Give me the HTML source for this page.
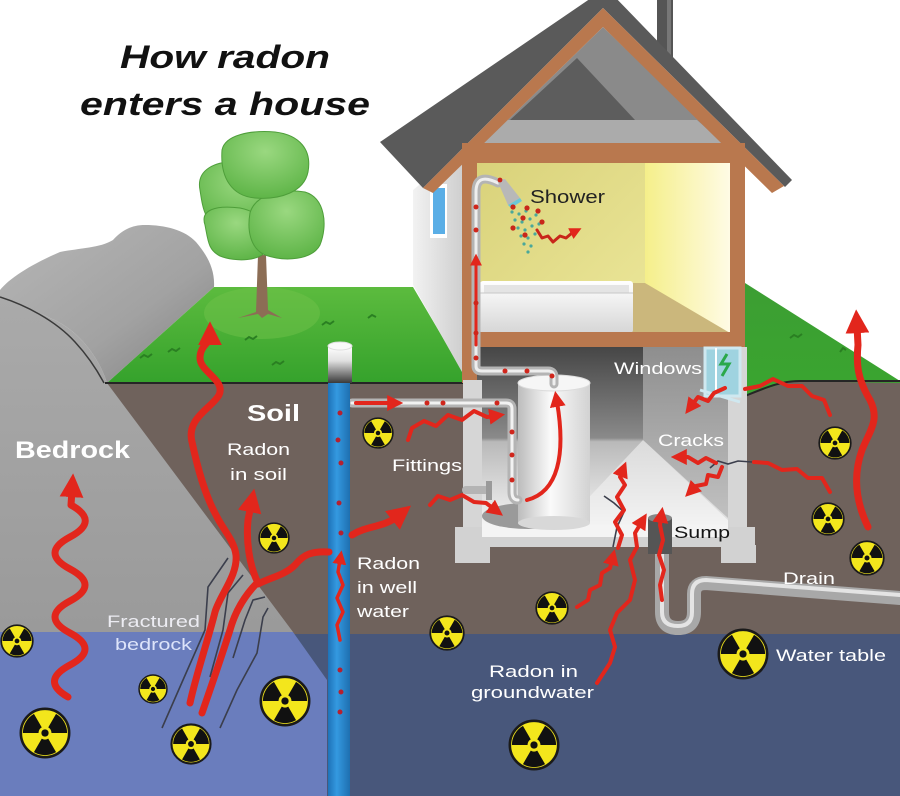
<!DOCTYPE html>
<html><head><meta charset="utf-8"><style>
html,body{margin:0;padding:0;background:#fff;}
svg{display:block;}
text{font-family:"Liberation Sans",Arial,sans-serif;}
</style></head><body>
<svg width="900" height="796" viewBox="0 0 900 796" xmlns="http://www.w3.org/2000/svg">
<defs>
 <symbol id="rad" viewBox="-1 -1 2 2">
  <circle r="0.93" fill="#f3e61c" stroke="#1a1a1a" stroke-width="0.1"/>
  <path fill="#111" d="M0.425,0.736 A0.85,0.85 0 0 1 -0.425,0.736 L-0.125,0.2165 A0.25,0.25 0 0 0 0.125,0.2165 Z M0.425,-0.736 A0.85,0.85 0 0 1 0.85,0 L0.25,0 A0.25,0.25 0 0 0 0.125,-0.2165 Z M-0.85,0 A0.85,0.85 0 0 1 -0.425,-0.736 L-0.125,-0.2165 A0.25,0.25 0 0 0 -0.25,0 Z"/>
  <circle r="0.14" fill="#111"/>
 </symbol>
 <marker id="ah" viewBox="0 0 10 10" refX="3" refY="5" markerWidth="3.4" markerHeight="3.4" orient="auto"><path d="M0,0 L10,5 L0,10 Z" fill="#e2261c"/></marker>
 <marker id="ahs" viewBox="0 0 10 10" refX="3" refY="5" markerWidth="4" markerHeight="4" orient="auto"><path d="M0,0 L10,5 L0,10 Z" fill="#e2261c"/></marker>
 <linearGradient id="rockTop" x1="0" y1="0" x2="1" y2="1"><stop offset="0" stop-color="#b6b6b6"/><stop offset="0.6" stop-color="#a2a2a2"/><stop offset="1" stop-color="#808080"/></linearGradient>
 <linearGradient id="rockFace" x1="0" y1="0" x2="0" y2="1"><stop offset="0" stop-color="#aaaaaa"/><stop offset="1" stop-color="#9a9a9a"/></linearGradient>
 <linearGradient id="grassL" x1="0" y1="0" x2="0" y2="1"><stop offset="0" stop-color="#5cbb3e"/><stop offset="1" stop-color="#35a22c"/></linearGradient>
 <linearGradient id="grassR" x1="0" y1="0" x2="0" y2="1"><stop offset="0" stop-color="#3c9e33"/><stop offset="1" stop-color="#3aa52f"/></linearGradient>
 <linearGradient id="sideWall" x1="0" y1="0" x2="1" y2="0"><stop offset="0" stop-color="#f2f2f2"/><stop offset="1" stop-color="#cfcfcf"/></linearGradient>
 <linearGradient id="roomBack" x1="0" y1="0" x2="1" y2="1"><stop offset="0" stop-color="#d9d27a"/><stop offset="1" stop-color="#ece79a"/></linearGradient>
 <linearGradient id="roomRight" x1="0" y1="0" x2="1" y2="0"><stop offset="0" stop-color="#f5ef8a"/><stop offset="1" stop-color="#fffbe6"/></linearGradient>
 <linearGradient id="base" x1="0" y1="0" x2="0" y2="1"><stop offset="0" stop-color="#464646"/><stop offset="0.5" stop-color="#8a8a8a"/><stop offset="0.52" stop-color="#b9b9b9"/><stop offset="1" stop-color="#f7f7f7"/></linearGradient>
 <linearGradient id="baseR" x1="0" y1="0" x2="0" y2="1"><stop offset="0" stop-color="#8e8e8e"/><stop offset="1" stop-color="#c2c2c2"/></linearGradient>
 <linearGradient id="heater" x1="0" y1="0" x2="1" y2="0"><stop offset="0" stop-color="#bcbcbc"/><stop offset="0.45" stop-color="#fafafa"/><stop offset="1" stop-color="#d2d2d2"/></linearGradient>
 <linearGradient id="cap" x1="0" y1="0" x2="0" y2="1"><stop offset="0" stop-color="#ffffff"/><stop offset="0.4" stop-color="#e0e0e0"/><stop offset="1" stop-color="#3a3a3a"/></linearGradient>
 <linearGradient id="tub" x1="0" y1="0" x2="0" y2="1"><stop offset="0" stop-color="#ffffff"/><stop offset="1" stop-color="#d6d6d6"/></linearGradient>
 <linearGradient id="well" x1="0" y1="0" x2="1" y2="0"><stop offset="0" stop-color="#1e72b8"/><stop offset="0.4" stop-color="#3499e0"/><stop offset="1" stop-color="#1e6fb0"/></linearGradient>
 <radialGradient id="canopy" cx="0.5" cy="0.3" r="0.7"><stop offset="0" stop-color="#9ad880"/><stop offset="1" stop-color="#5fb548"/></radialGradient>
</defs>

<rect width="900" height="796" fill="#fff"/>

<!-- soil -->
<rect x="0" y="382" width="900" height="256" fill="#6f625c"/>
<!-- water -->
<rect x="0" y="634" width="900" height="162" fill="#48577b"/>
<!-- light blue under bedrock -->
<polygon points="0,632 293,632 327,680 327,796 0,796" fill="#6a7dbd"/>
<!-- bedrock face -->
<path d="M0,292 C12,298 30,308 50,318 C80,330 100,360 107,383 L293,632 L0,632 Z" fill="url(#rockFace)"/>
<!-- rock top -->
<path d="M0,290 C10,278 30,265 60,252 C80,248 100,248 113,240 C122,230 132,225 145,225 C165,225 185,230 196,242 C208,256 215,270 214,287 L107,383 C100,360 80,330 50,318 C30,308 12,300 0,297 Z" fill="url(#rockTop)"/>
<path d="M0,297 C25,305 55,320 75,342 C88,356 97,370 104,383" fill="none" stroke="#3a3a3a" stroke-width="1.5"/>

<!-- grass left -->
<polygon points="107,383 214,287 413,287 463,372 463,383" fill="url(#grassL)"/>
<ellipse cx="262" cy="313" rx="58" ry="26" fill="#6fc249" opacity="0.5"/>
<!-- grass right -->
<polygon points="745,283 900,381 900,383 790,381 745,396" fill="url(#grassR)"/>
<line x1="105" y1="383" x2="463" y2="383" stroke="#252525" stroke-width="2"/>
<path d="M745,396 C765,388 780,381 800,381 L900,381" fill="none" stroke="#252525" stroke-width="2"/>
<!-- grass tufts -->
<g stroke="#2a7f22" stroke-width="2" fill="none">
<path d="M140,358 l4,-3 l4,2 l4,-3"/><path d="M168,352 l4,-3 l4,2 l4,-3"/><path d="M245,340 l4,-3 l4,2 l4,-3"/><path d="M272,365 l4,-3 l4,2 l4,-3"/><path d="M322,325 l4,-3 l4,2 l4,-3"/><path d="M368,318 l4,-3 l4,2"/><path d="M790,338 l4,-3 l4,2 l4,-3"/><path d="M840,352 l3,-4 l3,2"/>
</g>

<!-- tree -->
<path d="M258,255 L256,312 L238,318 L258,314 L262,318 L268,314 L282,318 L268,310 L266,255 Z" fill="#8c6d55"/>
<g fill="url(#canopy)" stroke="#4e9e3a" stroke-width="1">
<path d="M200,190 C196,170 215,160 240,162 C265,164 285,175 282,200 C279,225 250,232 225,228 C205,225 203,210 200,190 Z"/>
<path d="M205,225 C200,210 215,205 240,208 C262,212 272,230 268,248 C262,262 235,262 220,256 C208,250 208,240 205,225 Z"/>
<path d="M250,213 C255,195 280,188 305,192 C325,198 328,225 320,245 C312,260 285,262 265,255 C250,248 247,230 250,213 Z"/>
<path d="M222,150 C225,135 250,130 275,132 C300,135 312,150 308,172 C304,192 280,200 255,198 C232,196 220,178 222,150 Z"/>
</g>

<!-- chimney -->
<rect x="657" y="0" width="16" height="60" fill="#555"/>
<rect x="667" y="0" width="4" height="60" fill="#777"/>

<!-- house side wall -->
<polygon points="413,190 462,150 462,372 413,285" fill="url(#sideWall)"/>
<rect x="430" y="184" width="17" height="54" fill="#fff"/>
<rect x="433" y="188" width="12" height="46" fill="#5aaee6"/>

<!-- attic -->
<polygon points="484,143 603,27 723,143" fill="#8a8a8a"/>
<polygon points="507,120 697,120 723,143 484,143" fill="#ababab"/>
<polygon points="510,120 577,58 635,120" fill="#5d5d5d"/>

<!-- roof -->
<polygon points="380,142 597,-6 612,-6 792,180 785,187 603,8 423,188" fill="#5a5a5a"/>
<polygon points="423,188 603,8 784,186 772,193 603,27 433,193" fill="#b9784e"/>

<!-- room -->
<rect x="477" y="163" width="168" height="170" fill="url(#roomBack)"/>
<rect x="645" y="163" width="86" height="170" fill="url(#roomRight)"/>
<polygon points="477,283 645,283 730,333 477,333" fill="#cbb77c"/>
<!-- bathtub -->
<rect x="480" y="281" width="153" height="52" rx="3" fill="url(#tub)"/>
<rect x="484" y="285" width="145" height="8" fill="#e4e4e4"/>
<line x1="480" y1="293" x2="633" y2="293" stroke="#c8c8c8" stroke-width="1"/>

<!-- frame -->
<rect x="462" y="143" width="283" height="20" fill="#b9784e"/>
<rect x="462" y="143" width="15" height="240" fill="#b9784e"/>
<rect x="730" y="143" width="15" height="204" fill="#b9784e"/>
<rect x="462" y="332" width="283" height="15" fill="#b9784e"/>

<!-- basement -->
<rect x="477" y="347" width="253" height="182" fill="url(#base)"/>
<polygon points="643,347 730,347 730,522 643,440" fill="url(#baseR)"/>
<polygon points="643,440 728,518 728,528 560,528" fill="#f2f2f2" opacity="0.6"/>
<!-- foundation -->
<rect x="463" y="380" width="19" height="168" fill="#d6d6d6"/>
<rect x="728" y="347" width="19" height="201" fill="#d6d6d6"/>
<rect x="455" y="527" width="300" height="20" fill="#d2d2d2"/>
<rect x="482" y="525" width="246" height="12" fill="#f4f4f4"/>
<rect x="455" y="545" width="35" height="18" fill="#d2d2d2"/>
<rect x="721" y="545" width="35" height="18" fill="#d2d2d2"/>
<!-- window -->
<polygon points="705,348 740,348 740,396 705,396" fill="#9fd3e0" stroke="#cfe8f0" stroke-width="3"/>
<line x1="716" y1="348" x2="716" y2="396" stroke="#ffffff" stroke-width="2"/>
<path d="M727,354 l-6,10 l8,0 l-7,12" fill="none" stroke="#2aa84a" stroke-width="3"/>
<line x1="700" y1="390" x2="740" y2="402" stroke="#cfe8f0" stroke-width="3"/>

<!-- heater -->
<ellipse cx="528" cy="516" rx="46" ry="13" fill="#9a9a9a"/>
<rect x="518" y="383" width="72" height="140" fill="url(#heater)"/>
<ellipse cx="554" cy="523" rx="36" ry="7" fill="#d8d8d8"/>
<ellipse cx="554" cy="383" rx="36" ry="8" fill="#f6f6f6" stroke="#dcdcdc"/>

<!-- pipes -->
<g fill="none" stroke-linecap="round" stroke-linejoin="round">
<path d="M498,183 Q476,172 476,192 V366 Q476,371 482,371 H548 Q554,371 554,377 V384" stroke="#b4b4b4" stroke-width="9"/>
<path d="M498,183 Q476,172 476,192 V366 Q476,371 482,371 H548 Q554,371 554,377 V384" stroke="#eeeeee" stroke-width="3"/>
<path d="M352,403 H506 Q512,403 512,409 V492 Q512,500 518,500" stroke="#b4b4b4" stroke-width="9"/>
<path d="M352,403 H506 Q512,403 512,409 V492 Q512,500 518,500" stroke="#f2f2f2" stroke-width="3"/>
<path d="M466,490 H488" stroke="#b4b4b4" stroke-width="8"/>
</g>
<rect x="486" y="481" width="6" height="19" fill="#9a9a9a"/>
<!-- shower head -->
<polygon points="497,180 505,179 520,198 508,205" fill="#b8b8b8"/>
<polygon points="508,205 520,198 522,201 511,208" fill="#6cc6d8"/>

<!-- shower water -->
<g fill="#4aa89a">
<circle cx="512" cy="212" r="1.6"/><circle cx="519" cy="214" r="1.6"/><circle cx="526" cy="211" r="1.6"/><circle cx="515" cy="220" r="1.6"/><circle cx="522" cy="222" r="1.6"/><circle cx="530" cy="219" r="1.6"/><circle cx="536" cy="215" r="1.6"/><circle cx="518" cy="228" r="1.6"/><circle cx="525" cy="230" r="1.6"/><circle cx="532" cy="226" r="1.6"/><circle cx="539" cy="224" r="1.6"/><circle cx="521" cy="236" r="1.6"/><circle cx="528" cy="238" r="1.6"/><circle cx="535" cy="234" r="1.6"/><circle cx="524" cy="244" r="1.6"/><circle cx="531" cy="246" r="1.6"/><circle cx="528" cy="252" r="1.6"/>
</g>
<g fill="#c8261a">
<circle cx="513" cy="207" r="2.6"/><circle cx="527" cy="208" r="2.6"/><circle cx="538" cy="211" r="2.6"/><circle cx="523" cy="218" r="2.6"/><circle cx="542" cy="222" r="2.6"/><circle cx="513" cy="228" r="2.6"/><circle cx="525" cy="235" r="2.6"/><circle cx="500" cy="180" r="2.4"/>
</g>

<!-- sump & drain -->
<g fill="none" stroke-linecap="round" stroke-linejoin="round">
<path d="M662,552 V612 Q662,628 678,628 Q694,628 694,612 V594 Q694,583 706,583 L900,598" stroke="#a8a8a8" stroke-width="14"/>
<path d="M662,552 V612 Q662,626 678,626 Q692,626 692,612 V594 Q692,580 706,580 L900,595" stroke="#e4e4e4" stroke-width="4"/>
</g>
<rect x="648" y="518" width="24" height="36" fill="#555"/>
<ellipse cx="660" cy="518" rx="12" ry="4" fill="#888"/>

<!-- well -->
<rect x="328" y="383" width="22" height="413" fill="url(#well)"/>
<rect x="328" y="346" width="24" height="37" fill="url(#cap)"/>
<ellipse cx="340" cy="346" rx="12" ry="4" fill="#fafafa" stroke="#ddd"/>
<g fill="#b52030">
<circle cx="340" cy="413" r="2.5"/><circle cx="338" cy="440" r="2.5"/><circle cx="341" cy="463" r="2.5"/><circle cx="339" cy="503" r="2.5"/><circle cx="341" cy="533" r="2.5"/><circle cx="340" cy="670" r="2.5"/><circle cx="341" cy="692" r="2.5"/><circle cx="340" cy="712" r="2.5"/>
</g>

<!-- fracture lines -->
<g fill="none" stroke="#3b3e4c" stroke-width="1.6">
<polyline points="162,728 183,680 205,630 208,587 228,558"/>
<polyline points="210,677 223,630 228,593 243,575"/>
<polyline points="233,658 245,620 253,600 265,597"/>
<polyline points="220,728 237,690 257,653 263,617 268,608"/>
<polyline points="752,462 738,461 728,464 718,461 710,468"/>
<polyline points="604,496 614,503 624,512 617,527 613,547"/>
</g>

<!-- red arrows (thick) -->
<g fill="none" stroke="#e2261c" stroke-linecap="round" stroke-linejoin="round">
<path d="M68,697 Q40,681 70,665 T70,633 T70,601 T70,569 T70,537 T71,505 L72,490" stroke-width="7" marker-end="url(#ah)"/>
<path d="M190,703 C196,675 208,640 215,612 C220,595 238,575 236,555 C234,540 222,528 216,515 C205,495 198,470 192,442 C186,418 212,408 219,395 C226,380 200,372 200,358 C200,346 210,342 210,338" stroke-width="7" marker-end="url(#ah)"/>
<path d="M202,713 C210,690 222,655 230,630 C235,612 245,595 258,582" stroke-width="7"/>
<path d="M258,583 C249,565 246,540 248,520 L251,505" stroke-width="7" marker-end="url(#ah)"/>
<path d="M258,584 C272,577 285,575 295,565 C304,554 312,551 329,552" stroke-width="7"/>
<path d="M352,535 C368,525 383,528 398,516" stroke-width="7" marker-end="url(#ah)"/>
<path d="M868,527 C855,500 853,475 862,450 C870,430 880,420 870,400 C858,380 856,365 858,345 L857,326" stroke-width="7" marker-end="url(#ah)"/>
</g>

<!-- red arrows (thin) -->
<g fill="none" stroke="#e2261c" stroke-width="4" stroke-linecap="round" stroke-linejoin="round">
<polyline points="408,440 412,428 424,421 436,426 448,415 462,420 474,411 487,417 494,416" marker-end="url(#ahs)"/>
<polyline points="430,505 438,496 450,500 462,495 474,502 486,503 494,509" marker-end="url(#ahs)"/>
<polyline points="725,388 714,393 708,401 698,397 692,405" marker-end="url(#ahs)"/>
<polyline points="830,415 824,400 812,396 802,386 788,386 773,379 760,386 745,389"/>
<polyline points="830,492 822,478 808,478 797,469 782,470 768,463 754,462"/>
<polyline points="716,463 706,458 698,463 688,457 682,457" marker-end="url(#ahs)"/>
<polyline points="722,467 718,477 708,475 706,484 696,486 693,489" marker-end="url(#ahs)"/>
<polyline points="618,548 622,535 615,522 624,510 617,497 625,485 620,477 622,472" marker-end="url(#ahs)"/>
<polyline points="577,607 588,600 590,590 600,585 602,573 610,568 612,560" marker-end="url(#ahs)"/>
<polyline points="597,683 610,663 615,647 610,630 617,613 630,600 635,580 630,560 637,547 635,533 641,523" marker-end="url(#ahs)"/>
<polyline points="662,600 660,585 664,570 659,555 663,540 660,525 661,518" marker-end="url(#ahs)"/>
<polyline points="340,640 337,625 343,612 337,598 343,585 338,572 340,560" stroke-width="3.5" marker-end="url(#ahs)"/>
<path d="M527,500 C558,492 566,455 557,402" marker-end="url(#ahs)"/>
<line x1="356" y1="403" x2="392" y2="403" stroke-width="4" marker-end="url(#ahs)"/>
<line x1="476" y1="345" x2="476" y2="262" stroke-width="3" marker-end="url(#ahs)"/>
<polyline points="537,230 542,238 548,236 553,242 560,236 566,238 572,233 574,232" stroke="#c8261a" stroke-width="3" marker-end="url(#ahs)"/>
</g>
<g fill="#d0261c">
<circle cx="427" cy="403" r="2.5"/><circle cx="443" cy="403" r="2.5"/><circle cx="497" cy="403" r="2.5"/><circle cx="512" cy="432" r="2.5"/><circle cx="512" cy="455" r="2.5"/><circle cx="512" cy="480" r="2.5"/>
<circle cx="476" cy="207" r="2.5"/><circle cx="476" cy="230" r="2.5"/><circle cx="476" cy="303" r="2.5"/><circle cx="476" cy="333" r="2.5"/><circle cx="476" cy="358" r="2.5"/><circle cx="505" cy="371" r="2.5"/><circle cx="527" cy="371" r="2.5"/><circle cx="552" cy="376" r="2.5"/>
</g>

<!-- radiation symbols -->
<use href="#rad" x="362" y="417" width="32" height="32"/>
<use href="#rad" x="258" y="522" width="32" height="32"/>
<use href="#rad" x="0" y="624" width="34" height="34"/>
<use href="#rad" x="19" y="707" width="52" height="52"/>
<use href="#rad" x="138" y="674" width="30" height="30"/>
<use href="#rad" x="170" y="723" width="42" height="42"/>
<use href="#rad" x="259" y="675" width="52" height="52"/>
<use href="#rad" x="429" y="615" width="36" height="36"/>
<use href="#rad" x="535" y="591" width="34" height="34"/>
<use href="#rad" x="818" y="426" width="34" height="34"/>
<use href="#rad" x="811" y="502" width="34" height="34"/>
<use href="#rad" x="849" y="540" width="36" height="36"/>
<use href="#rad" x="717" y="628" width="52" height="52"/>
<use href="#rad" x="508" y="719" width="52" height="52"/>

<!-- text -->
<text x="120" y="68" font-size="32" font-weight="bold" font-style="italic" fill="#111" textLength="210" lengthAdjust="spacingAndGlyphs">How radon</text>
<text x="80" y="115" font-size="32" font-weight="bold" font-style="italic" fill="#111" textLength="290" lengthAdjust="spacingAndGlyphs">enters a house</text>

<g fill="#ffffff">
<text x="15" y="458" font-size="24" font-weight="bold" textLength="115" lengthAdjust="spacingAndGlyphs">Bedrock</text>
<text x="247" y="421" font-size="23" font-weight="bold" textLength="53" lengthAdjust="spacingAndGlyphs">Soil</text>
<text x="227" y="455" font-size="17" textLength="63" lengthAdjust="spacingAndGlyphs">Radon</text>
<text x="230" y="480" font-size="17" textLength="57" lengthAdjust="spacingAndGlyphs">in soil</text>
<text x="107" y="627" font-size="17" fill="#ececf2" textLength="93" lengthAdjust="spacingAndGlyphs">Fractured</text>
<text x="115" y="650" font-size="17" fill="#dde4fa" textLength="77" lengthAdjust="spacingAndGlyphs">bedrock</text>
<text x="357" y="569" font-size="17" textLength="63" lengthAdjust="spacingAndGlyphs">Radon</text>
<text x="357" y="593" font-size="17" textLength="60" lengthAdjust="spacingAndGlyphs">in well</text>
<text x="357" y="617" font-size="17" textLength="52" lengthAdjust="spacingAndGlyphs">water</text>
<text x="392" y="471" font-size="17" textLength="70" lengthAdjust="spacingAndGlyphs">Fittings</text>
<text x="614" y="374" font-size="17" textLength="88" lengthAdjust="spacingAndGlyphs">Windows</text>
<text x="658" y="446" font-size="17" textLength="66" lengthAdjust="spacingAndGlyphs">Cracks</text>
<text x="783" y="584" font-size="17" textLength="52" lengthAdjust="spacingAndGlyphs">Drain</text>
<text x="776" y="661" font-size="17" textLength="110" lengthAdjust="spacingAndGlyphs">Water table</text>
<text x="489" y="677" font-size="17" textLength="89" lengthAdjust="spacingAndGlyphs">Radon in</text>
<text x="471" y="698" font-size="17" textLength="123" lengthAdjust="spacingAndGlyphs">groundwater</text>
</g>
<text x="530" y="203" font-size="18" fill="#222" textLength="75" lengthAdjust="spacingAndGlyphs">Shower</text>
<text x="674" y="538" font-size="17" fill="#151515" textLength="56" lengthAdjust="spacingAndGlyphs">Sump</text>
</svg>
</body></html>
